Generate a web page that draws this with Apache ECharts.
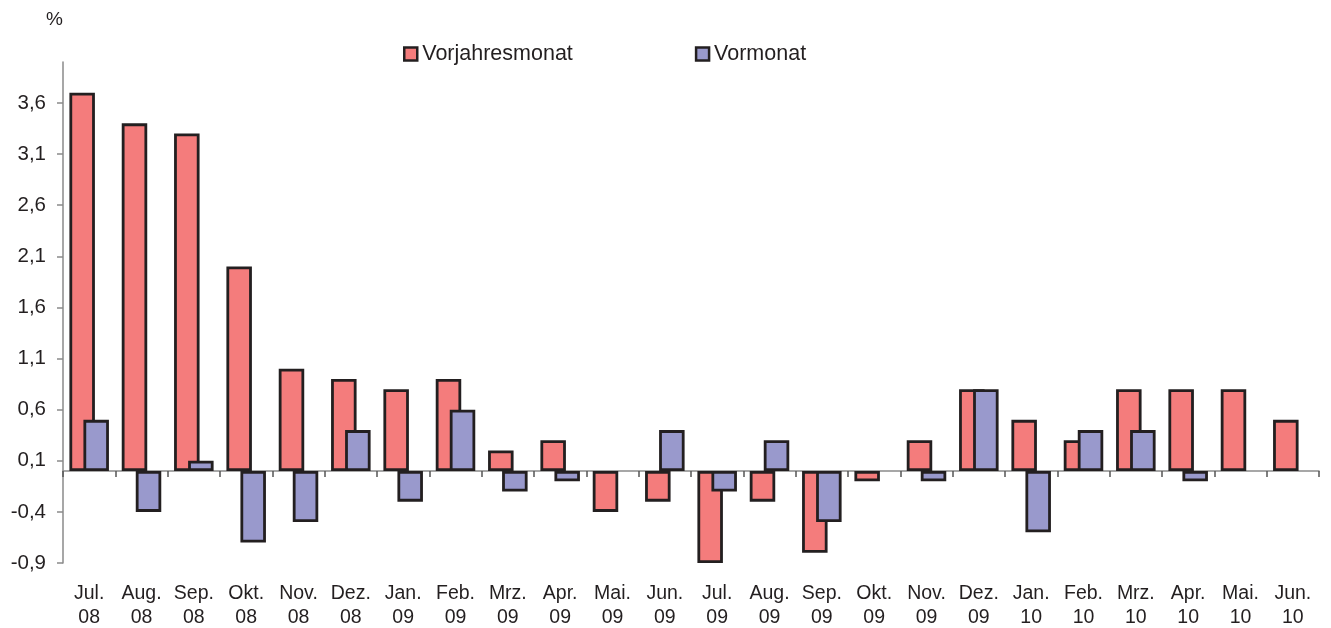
<!DOCTYPE html>
<html>
<head>
<meta charset="utf-8">
<script src="https://cdn.jsdelivr.net/npm/echarts@6/dist/echarts.min.js"></script>
<style>
html,body{margin:0;padding:0;background:#fff;}
#chart{width:1331px;height:628px;}
</style>
</head>
<body>
<div id="chart"></div>
<script>
var categories = ['Jul.\n08','Aug.\n08','Sep.\n08','Okt.\n08','Nov.\n08','Dez.\n08',
  'Jan.\n09','Feb.\n09','Mrz.\n09','Apr.\n09','Mai.\n09','Jun.\n09',
  'Jul.\n09','Aug.\n09','Sep.\n09','Okt.\n09','Nov.\n09','Dez.\n09',
  'Jan.\n10','Feb.\n10','Mrz.\n10','Apr.\n10','Mai.\n10','Jun.\n10'];
var vorjahresmonat = [3.7,3.4,3.3,2.0,1.0,0.9,0.8,0.9,0.2,0.3,-0.4,-0.3,
  -0.9,-0.3,-0.8,-0.1,0.3,0.8,0.5,0.3,0.8,0.8,0.8,0.5];
var vormonat = [0.5,-0.4,0.1,-0.7,-0.5,0.4,-0.3,0.6,-0.2,-0.1,null,0.4,
  -0.2,0.3,-0.5,null,-0.1,0.8,-0.6,0.4,0.4,-0.1,null,null];
var yTicks = [-0.9,-0.4,0.1,0.6,1.1,1.6,2.1,2.6,3.1,3.6];

var textColor = '#231F20';
var axisGray = '#8a8a8a';
var font = 'Liberation Sans, Arial, sans-serif';

var chart = echarts.init(document.getElementById('chart'), null, {renderer:'canvas'});
chart.setOption({
  animation: false,
  backgroundColor: '#ffffff',
  textStyle: {fontFamily: font, color: textColor},
  legend: {
    left: 398, top: 38,
    icon: 'rect',
    itemWidth: 13, itemHeight: 13, itemGap: 122,
    textStyle: {fontFamily: font, fontSize: 21.5, color: textColor},
    data: ['Vorjahresmonat','Vormonat'],
    itemStyle: {borderColor: '#231F20', borderWidth: 2.5}
  },
  graphic: [{
    type: 'text', left: 46, top: 10,
    style: {text: '%', font: '19px ' + font, fill: textColor}
  }],
  grid: {left: 63, right: 12, top: 62, bottom: 65, containLabel: false, outerBoundsMode: 'none'},
  xAxis: [{
    type: 'category',
    data: categories,
    axisLine: {onZero: true, lineStyle: {color: axisGray, width: 1.5}},
    axisTick: {show: true, inside: false, length: 6, alignWithLabel: false, lineStyle: {color: '#555', width: 1.5}},
    axisLabel: {show: false},
    splitLine: {show: false}
  }, {
    type: 'category',
    data: categories,
    position: 'bottom',
    axisLine: {show: false, onZero: false},
    axisTick: {show: false},
    axisLabel: {margin: 19, fontSize: 19.5, lineHeight: 24, color: textColor, fontFamily: font, interval: 0},
    splitLine: {show: false}
  }],
  yAxis: {
    type: 'value',
    min: -0.9, max: 4.0, interval: 0.5,
    axisLine: {show: true, lineStyle: {color: axisGray, width: 1.5}},
    axisTick: {show: true, length: 6, customValues: yTicks, lineStyle: {color: axisGray, width: 1.5}},
    axisLabel: {
      margin: 17, fontSize: 20.5, color: textColor, fontFamily: font,
      customValues: yTicks,
      formatter: function (v) { return Number(v).toFixed(1).replace('.', ','); }
    },
    splitLine: {show: false}
  },
  series: [
    {
      name: 'Vorjahresmonat', type: 'bar', data: vorjahresmonat, xAxisIndex: 0,
      barWidth: 25.5, barGap: '-45%',
      itemStyle: {color: '#F47C7C', borderColor: '#231F20', borderWidth: 2.8}
    },
    {
      name: 'Vormonat', type: 'bar', data: vormonat, xAxisIndex: 0,
      barWidth: 25.5, barGap: '-45%',
      itemStyle: {color: '#9999CC', borderColor: '#231F20', borderWidth: 2.8}
    }
  ]
});
</script>
</body>
</html>
